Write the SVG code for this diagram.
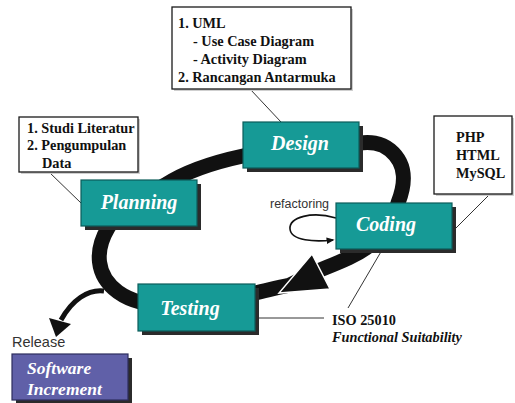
<svg xmlns="http://www.w3.org/2000/svg" width="515" height="403" viewBox="0 0 515 403">
  <defs>
    <style>
      .phase { fill: #169a96; stroke: #0c5d5a; stroke-width: 1.2; }
      .shadow { fill: #2b2b2b; }
      .release-box { fill: #6060a8; stroke: #2e2e5e; stroke-width: 1.2; }
      .phase-label { font-family: "Liberation Serif", "Times New Roman", serif; font-weight: bold; font-style: italic; font-size: 20px; fill: #ffffff; text-anchor: middle; }
      .note { fill: #ffffff; stroke: #1a1a1a; stroke-width: 1.3; }
      .note-shadow { fill: #cfcfcf; }
      .note-text { font-family: "Liberation Serif", "Times New Roman", serif; font-weight: bold; font-size: 14.3px; fill: #111111; }
      .leader { stroke: #333333; stroke-width: 1; fill: none; }
      .sans { font-family: "Liberation Sans", Arial, sans-serif; fill: #333333; }
    </style>
    <marker id="loopHead" viewBox="0 0 10 10" refX="8" refY="5" markerWidth="5" markerHeight="5" orient="auto">
      <path d="M0,1 L10,5 L0,9 Z" fill="#111111"/>
    </marker>
  </defs>

  <rect width="515" height="403" fill="#ffffff"/>

  <!-- connectors: the iteration loop, release branch, refactoring loop and note leaders -->
  <g id="connectors">
    <path d="M 243,156 C 215,162 185,172 165,185 C 140,200 115,215 108,228 C 95,250 95,275 118,292 C 125,297 132,300 140,302 L 255,293 C 265,291 275,288 290,285 L 320,270 C 340,262 358,255 370,245 C 385,230 395,215 398,203 C 405,185 408,165 390,150 C 380,142 370,142 359,143 Z" fill="none" stroke="#111111" stroke-width="15" stroke-linejoin="round"/>
    <polygon points="312,254 330,289 279,293" fill="#111111" stroke="#ffffff" stroke-width="1.5" stroke-linejoin="miter"/>
    <path d="M 104,291 C 88,289 72,300 61,320" fill="none" stroke="#111111" stroke-width="5"/>
    <polygon points="49,318 71,324 56,337" fill="#111111"/>
    <path d="M 336,218 C 312,211 289,217 290,229 C 291,241 315,242 333,240" fill="none" stroke="#111111" stroke-width="1.6" marker-end="url(#loopHead)"/>
    <line class="leader" x1="250" y1="89" x2="281" y2="122"/>
    <line class="leader" x1="49" y1="172" x2="81" y2="203"/>
    <line class="leader" x1="490" y1="194" x2="456" y2="228"/>
    <line class="leader" x1="382" y1="250" x2="348" y2="308"/>
    <line class="leader" x1="255" y1="318" x2="324" y2="318" stroke-width="1.3"/>
  </g>

  <g id="planning">
    <rect class="shadow" x="85" y="184" width="116" height="46"/>
    <rect class="phase" x="81" y="180" width="116" height="46"/>
    <text class="phase-label" x="139" y="209">Planning</text>
  </g>

  <g id="design">
    <rect class="shadow" x="247" y="126" width="116" height="46"/>
    <rect class="phase" x="243" y="122" width="116" height="46"/>
    <text class="phase-label" x="300" y="150">Design</text>
  </g>

  <g id="coding">
    <rect class="shadow" x="340" y="207" width="116" height="46"/>
    <rect class="phase" x="336" y="203" width="116" height="46"/>
    <text class="phase-label" x="386" y="231">Coding</text>
  </g>

  <g id="testing">
    <rect class="shadow" x="142" y="288" width="117" height="47"/>
    <rect class="phase" x="138" y="284" width="117" height="47"/>
    <text class="phase-label" x="190" y="315">Testing</text>
  </g>

  <g id="software-increment">
    <text class="sans" x="12" y="347" font-size="14.5" fill="#222222">Release</text>
    <rect class="shadow" x="16" y="358" width="116" height="46"/>
    <rect class="release-box" x="12" y="354" width="116" height="46"/>
    <text x="27" y="374" font-family="Liberation Serif, Times New Roman, serif" font-weight="bold" font-style="italic" font-size="17.5" fill="#ffffff">Software</text>
    <text x="27" y="395" font-family="Liberation Serif, Times New Roman, serif" font-weight="bold" font-style="italic" font-size="17.5" fill="#ffffff">Increment</text>
  </g>

  <g id="design-note">
    <rect class="note-shadow" x="174" y="9" width="179" height="82"/>
    <rect class="note" x="172" y="7" width="179" height="82"/>
    <text class="note-text" x="178" y="28">1. UML</text>
    <text class="note-text" x="193" y="46">- Use Case Diagram</text>
    <text class="note-text" x="193" y="64">- Activity Diagram</text>
    <text class="note-text" x="178" y="82">2. Rancangan Antarmuka</text>
  </g>

  <g id="planning-note">
    <rect class="note-shadow" x="21" y="119" width="119" height="55"/>
    <rect class="note" x="19" y="117" width="119" height="55"/>
    <text class="note-text" x="27" y="133">1. Studi Literatur</text>
    <text class="note-text" x="27" y="150">2. Pengumpulan</text>
    <text class="note-text" x="42" y="168">Data</text>
  </g>

  <g id="coding-note">
    <rect class="note-shadow" x="436" y="118" width="78" height="78"/>
    <rect class="note" x="434" y="116" width="78" height="78"/>
    <text class="note-text" x="456" y="142">PHP</text>
    <text class="note-text" x="456" y="160">HTML</text>
    <text class="note-text" x="456" y="178">MySQL</text>
  </g>

  <g id="refactoring-label">
    <text class="sans" x="270" y="208" font-size="12.5">refactoring</text>
  </g>

  <g id="testing-note">
    <text class="note-text" x="332" y="325" font-size="14.8">ISO 25010</text>
    <text class="note-text" x="332" y="342" font-size="15" font-style="italic">Functional Suitability</text>
  </g>
</svg>
